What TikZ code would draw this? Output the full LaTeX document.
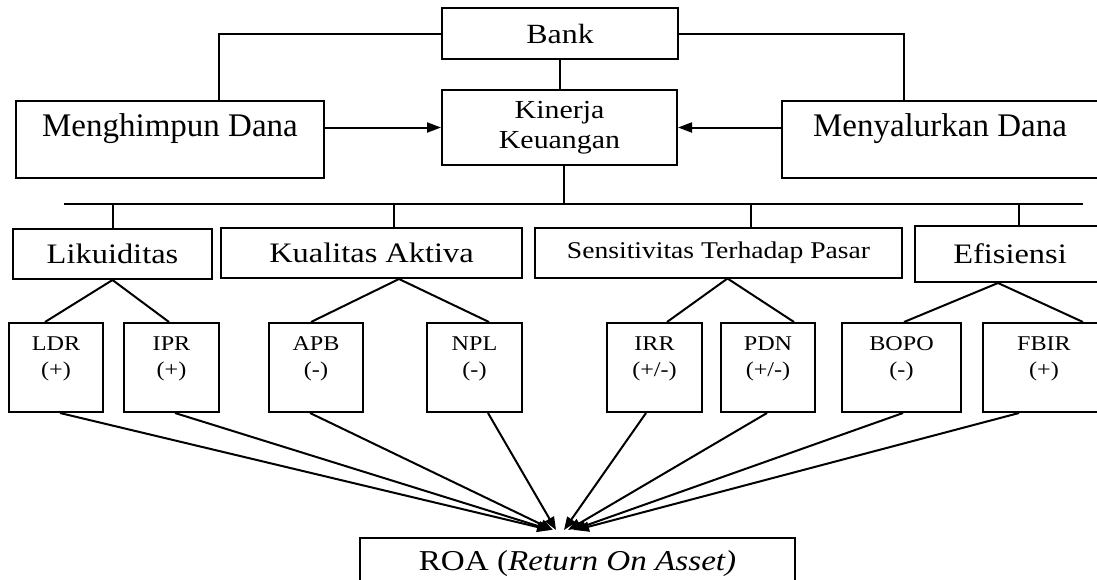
\documentclass[tikz,border=0pt]{standalone}
\usepackage{fontspec}
\setmainfont{Liberation Serif}
\newfontfamily\widefont{Liberation Serif}[FakeStretch=1.15]
\usetikzlibrary{arrows.meta}

\begin{document}
\begin{tikzpicture}[x=0.5pt, y=-0.5pt, line width=1pt,
  box/.style={draw, inner sep=0pt, align=center},
  cat/.style={box, minimum height=25pt, font=\widefont\fontsize{14.1}{16.9}\selectfont},
  sub/.style={box, minimum height=44.5pt, font=\widefont\fontsize{10.5}{12.6}\selectfont},
  arr/.style={-{Triangle[length=7pt,width=5pt]}},
  tiparr/.style={-{Triangle[length=6.5pt,width=5pt]}}]

  \path[use as bounding box, clip] (0,0) rectangle (1097,579);

  % Top nodes
  \node[box, minimum width=118pt, minimum height=25.5pt, font=\widefont\fontsize{13.9}{16.7}\selectfont] (Bank) at (560,33.5) {Bank};
  \node[box, minimum width=117.5pt, minimum height=37.5pt, font=\widefont\fontsize{13}{15.6}\selectfont] (Kinerja) at (559.5,127.5) {Kinerja\\[-0.6pt]Keuangan};
  \node[box, minimum width=154pt, minimum height=38.5pt, font=\fontsize{16.5}{19.8}\selectfont] (Hp) at (170,139.5) {Menghimpun Dana\\[-5pt]~};
  \node[box, minimum width=158pt, minimum height=38.5pt, font=\fontsize{16.5}{19.8}\selectfont] (Ny) at (940,139.5) {Menyalurkan Dana\\[-5pt]~};

  % Category nodes
  \node[cat, minimum width=99.5pt] (Lik) at (112.5,254) {Likuiditas};
  \node[cat, minimum width=150.5pt] (Kua) at (371.5,253) {Kualitas Aktiva};
  \node[cat, minimum width=183.5pt, font=\widefont\fontsize{12}{14.4}\selectfont] (Sen) at (718.5,252.5) {Sensitivitas Terhadap Pasar};
  \node[cat, minimum width=95pt, minimum height=28pt] (Efi) at (1010,254) {Efisiensi};

  % Ratio nodes
  \foreach \n/\x/\w/\s in {LDR/56/47/(+), IPR/171.5/47.5/(+), APB/316/47/(-), NPL/474.5/47.5/(-),
                           IRR/654.5/47.5/{(+/-)}, PDN/768/47/{(+/-)}, BOPO/901.5/59.5/(-), FBIR/1044/61/(+)} {
    \node[sub, minimum width=\w pt] (\n) at (\x,367.5) {\n\\[0.4pt]\s\\[-1.6pt]~};
  }

  % ROA
  \node[box, anchor=north, minimum width=217.5pt, minimum height=26pt, font=\widefont\fontsize{14.4}{17.3}\selectfont] (Roa) at (577.5,537) {ROA (\textit{Return On Asset)}};
  \coordinate (tip) at (563,530);

  % Bank to both sides and down
  \draw (Bank.west) -| ([xshift=24.5pt]Hp.north);
  \draw (Bank.east) -| ([xshift=-18pt]Ny.north);
  \draw (Bank.south) -- (Bank.south |- Kinerja.north);
  \draw[arr] (Kinerja.west -| Hp.east) -- (Kinerja.west);
  \draw[arr] (Kinerja.east -| Ny.west) -- (Kinerja.east);

  % Bus line
  \coordinate (busL) at (64,204);
  \coordinate (busR) at (1083,204);
  \draw (busL) -- (busR);
  \draw ([xshift=2.25pt]Kinerja.south) |- (busL);
  \foreach \n/\d in {Lik/0, Kua/11, Sen/16.25, Efi/4.5} {
    \draw ([xshift=\d pt]\n.north) |- (busL);
  }

  % Category to ratios
  \foreach \c/\a/\n/\b in {Lik/0/LDR/-5.5, Lik/0/IPR/-1.25, Kua/13.75/APB/-2.5, Kua/13.75/NPL/7.25,
                           Sen/4.5/IRR/6.25, Sen/4.5/PDN/13, Efi/-6/BOPO/1.25, Efi/-6/FBIR/19.5} {
    \draw ([xshift=\a pt]\c.south) -- ([xshift=\b pt]\n.north);
  }

  % Ratios to ROA
  \foreach \n/\a/\b in {LDR/2/-6.5, IPR/1.75/-6, APB/-3/-5, NPL/6.75/-3.5,
                        IRR/-4.25/0.5, PDN/-0.5/2.5, BOPO/0.75/5, FBIR/-12.5/6.5} {
    \draw[tiparr] ([xshift=\a pt]\n.south) -- ([xshift=\b pt]tip);
  }

\end{tikzpicture}
\end{document}
